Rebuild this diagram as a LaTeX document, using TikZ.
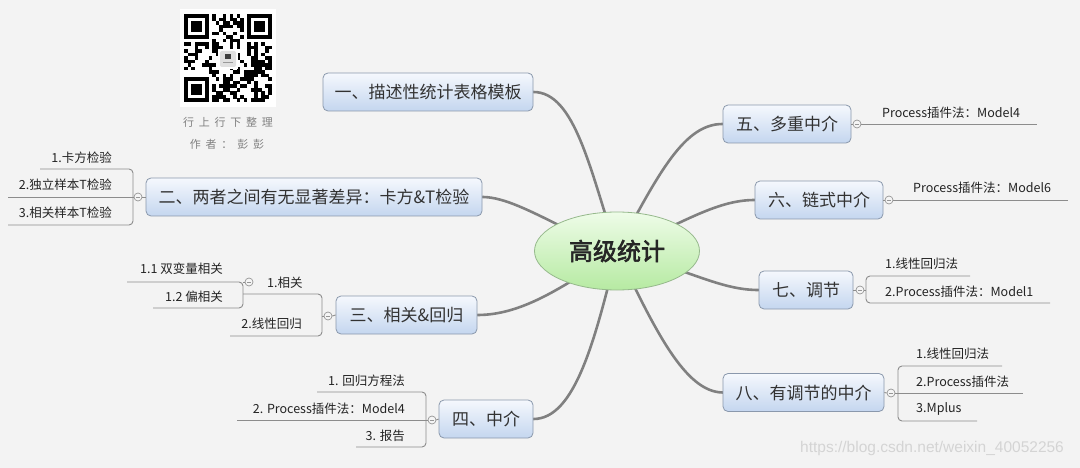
\documentclass[tikz,border=0pt]{standalone}
\usepackage{fontspec}
\setmainfont{Noto Sans CJK SC}
\newfontfamily\cjkbold{Noto Sans CJK SC}[FakeBold=2.5]
\newfontfamily\wmfont{Liberation Sans}
\usetikzlibrary{shapes.geometric}
\definecolor{bgcol}{RGB}{243,243,243}
\definecolor{boxtop}{RGB}{245,248,253}
\definecolor{boxbot}{RGB}{196,214,239}
\definecolor{boxborder}{RGB}{138,152,172}
\definecolor{topictext}{RGB}{50,50,50}
\definecolor{subtext}{RGB}{35,35,35}
\definecolor{conncol}{RGB}{128,128,128}
\definecolor{brcol}{RGB}{140,140,140}
\definecolor{knobcol}{RGB}{150,150,150}
\definecolor{knobfill}{RGB}{245,245,245}
\definecolor{elltop}{RGB}{238,252,232}
\definecolor{ellbot}{RGB}{182,234,162}
\definecolor{ellborder}{RGB}{150,185,140}
\definecolor{qrgray}{RGB}{128,128,128}
\definecolor{wmcol}{RGB}{212,212,212}
\pgfdeclarelayer{back}
\pgfsetlayers{back,main}
\begin{document}
\begin{tikzpicture}[x=1pt,y=-1pt,
  topic/.style={draw=boxborder, line width=0.8pt, rounded corners=5pt,
    top color=boxtop, bottom color=boxbot, minimum height=38pt, inner sep=0pt,
    text=topictext, font=\fontsize{17}{17}\selectfont},
  subt/.style={inner sep=0pt, text=subtext, font=\fontsize{12.5}{12.5}\selectfont},
  conn/.style={draw=conncol, line width=2.6pt, line cap=round},
  br/.style={draw=brcol, line width=0.9pt, rounded corners=4pt},
  knob/.style={circle, draw=knobcol, fill=knobfill, line width=0.7pt,
    minimum size=8pt, inner sep=0pt,
    path picture={\draw[knobcol, line width=0.6pt]
      ([xshift=-2pt]path picture bounding box.center) --
      ([xshift=2pt]path picture bounding box.center);}},
  qrtext/.style={inner sep=0pt, text=qrgray, font=\fontsize{11}{11}\selectfont}
]
\begin{pgfonlayer}{back}
\fill[bgcol] (0,0) rectangle (1080,468);
\end{pgfonlayer}
\useasboundingbox (0,0) rectangle (1080,468);

% ---------- QR code ----------
\fill[white] (180,9) rectangle (276,107);
\pgfmathsetseed{4242}
\foreach \i in {0,...,24}{
  \foreach \j in {0,...,24}{
    \pgfmathtruncatemacro{\qskip}{((\i<8)&&(\j<8))||((\i>16)&&(\j<8))||((\i<8)&&(\j>16))||((\i>9)&&(\i<15)&&(\j>9)&&(\j<15))}
    \pgfmathrandominteger{\qbit}{0}{1}
    \ifnum\qskip=0 \ifnum\qbit=1
      \fill[black] ({184+3.52*\i},{14+3.52*\j}) rectangle ++(3.6,3.6);
    \fi\fi
  }
}
\foreach \fx/\fy in {0/0,18/0,0/18}{
  \fill[black] ({184+3.52*\fx},{14+3.52*\fy}) rectangle ++(24.64,24.64);
  \fill[white] ({184+3.52*(\fx+1)},{14+3.52*(\fy+1)}) rectangle ++(17.6,17.6);
  \fill[black] ({184+3.52*(\fx+2)},{14+3.52*(\fy+2)}) rectangle ++(10.56,10.56);
}
\fill[white] (218,49) rectangle (238,69);
\fill[black!12, rounded corners=2pt] (220,51) rectangle (236,67);
\fill[black!75] (225,54) rectangle (231,59);
\fill[black!40] (223,62) rectangle (233,63);
\node[qrtext] (qr1) at (228,122) {行\hspace{4.8pt}上\hspace{4.8pt}行\hspace{4.8pt}下\hspace{4.8pt}整\hspace{4.8pt}理};
\node[qrtext] (qr2) at (227,144) {作\hspace{4.8pt}者\hspace{4.8pt}：\hspace{4.8pt}彭\hspace{4.8pt}彭};

% ---------- central topic ----------
\node[ellipse, draw=ellborder, line width=0.8pt, top color=elltop, bottom color=ellbot,
      minimum width=165pt, minimum height=78pt, inner sep=0pt,
      font=\cjkbold\fontsize{24}{24}\selectfont, text=black!85] (c) at (617,251) {高级统计};

% ---------- main topics ----------
\node[topic, minimum width=210pt] (t1) at (428,92)  {一、描述性统计表格模板};
\node[topic, minimum width=336pt] (t2) at (314,197) {二、两者之间有无显著差异：卡方\&T检验};
\node[topic, minimum width=141pt] (t3) at (406.5,315) {三、相关\&回归};
\node[topic, minimum width=94pt]  (t4) at (486,419) {四、中介};
\node[topic, minimum width=128pt] (t5) at (787,124) {五、多重中介};
\node[topic, minimum width=128pt] (t6) at (819,200) {六、链式中介};
\node[topic, minimum width=94pt]  (t7) at (806,290) {七、调节};
\node[topic, minimum width=161pt] (t8) at (803.5,392.5) {八、有调节的中介};

% ---------- main connectors ----------
\begin{pgfonlayer}{back}
\draw[conn] (t1.east) .. controls (575,92) and (590,170) .. (c.center);
\draw[conn] (t2.east) .. controls (515,197) and (560,230) .. (c.center);
\draw[conn] (t3.east) .. controls (520,315) and (560,290) .. (c.center);
\draw[conn] (t4.east) .. controls (575,419) and (595,340) .. (c.center);
\draw[conn] (t5.west) .. controls (685,124) and (660,170) .. (c.center);
\draw[conn] (t6.west) .. controls (715,200) and (680,225) .. (c.center);
\draw[conn] (t7.west) .. controls (720,290) and (690,270) .. (c.center);
\draw[conn] (t8.west) .. controls (685,392) and (655,330) .. (c.center);
\end{pgfonlayer}

% ---------- 二 ----------
\node[knob] (k2) at (138,197) {};
\draw[br] (t2.west) -- (k2.east);
\node[subt, anchor=east] (s21) at (112,158) {1.卡方检验};
\node[subt, anchor=east] (s22) at (112,185) {2.独立样本T检验};
\node[subt, anchor=east] (s23) at (112,213) {3.相关样本T检验};
\draw[br] (40,169) -- (133,169) -- (133,225) -- (8,225);
\draw[br] (8,197) -- (k2.west);

% ---------- 三 ----------
\node[knob] (k3) at (328,316) {};
\draw[br] (t3.west) -- (k3.east);
\node[subt, anchor=west] (s31) at (267,283) {1.相关};
\node[subt, anchor=east] (s32) at (302,324) {2.线性回归};
\draw[br] (243,294) -- (322,294) -- (322,336) -- (230,336);
\draw[br] (322,316) -- (k3.west);
\node[knob] (k31) at (249,282) {};
\node[subt, anchor=east] (s311) at (223,269) {1.1 双变量相关};
\node[subt, anchor=east] (s312) at (223,297) {1.2 偏相关};
\draw[br] (127,282) -- (243,282) -- (243,308) -- (153,308);
\draw[br] (243,282) -- (k31.west);

% ---------- 四 ----------
\node[knob] (k4) at (432,420) {};
\draw[br] (t4.west) -- (k4.east);
\node[subt, anchor=east] (s41) at (405,381) {1. 回归方程法};
\node[subt, anchor=east] (s42) at (405,409) {2. Process插件法：Model4};
\node[subt, anchor=east] (s43) at (405,436) {3. 报告};
\draw[br] (317,392) -- (426,392) -- (426,447) -- (356,447);
\draw[br] (237,420) -- (k4.west);

% ---------- 五 ----------
\node[knob] (k5) at (857,124) {};
\draw[br] (t5.east) -- (k5.west);
\node[subt, anchor=west] (s51) at (882,113) {Process插件法：Model4};
\draw[br] (k5.east) -- (1037,124);

% ---------- 六 ----------
\node[knob] (k6) at (889,200) {};
\draw[br] (t6.east) -- (k6.west);
\node[subt, anchor=west] (s61) at (913,188) {Process插件法：Model6};
\draw[br] (k6.east) -- (1068,200);

% ---------- 七 ----------
\node[knob] (k7) at (860,290) {};
\draw[br] (t7.east) -- (k7.west);
\node[subt, anchor=west] (s71) at (885,264) {1.线性回归法};
\node[subt, anchor=west] (s72) at (885,292) {2.Process插件法：Model1};
\draw[br] (970,276) -- (866,276) -- (866,303) -- (1050,303);
\draw[br] (k7.east) -- (866,290);

% ---------- 八 ----------
\node[knob] (k8) at (891,393) {};
\draw[br] (t8.east) -- (k8.west);
\node[subt, anchor=west] (s81) at (916,354) {1.线性回归法};
\node[subt, anchor=west] (s82) at (916,382) {2.Process插件法};
\node[subt, anchor=west] (s83) at (916,409) {3.Mplus};
\draw[br] (1002,366) -- (898,366) -- (898,421) -- (977,421);
\draw[br] (k8.east) -- (1023,393);

% ---------- watermark ----------
\node[inner sep=0pt, anchor=west, text=wmcol, font=\wmfont\fontsize{15.5}{15.5}\selectfont] (wm) at (800,448) {https://blog.csdn.net/weixin\_40052256};
\end{tikzpicture}
\end{document}
